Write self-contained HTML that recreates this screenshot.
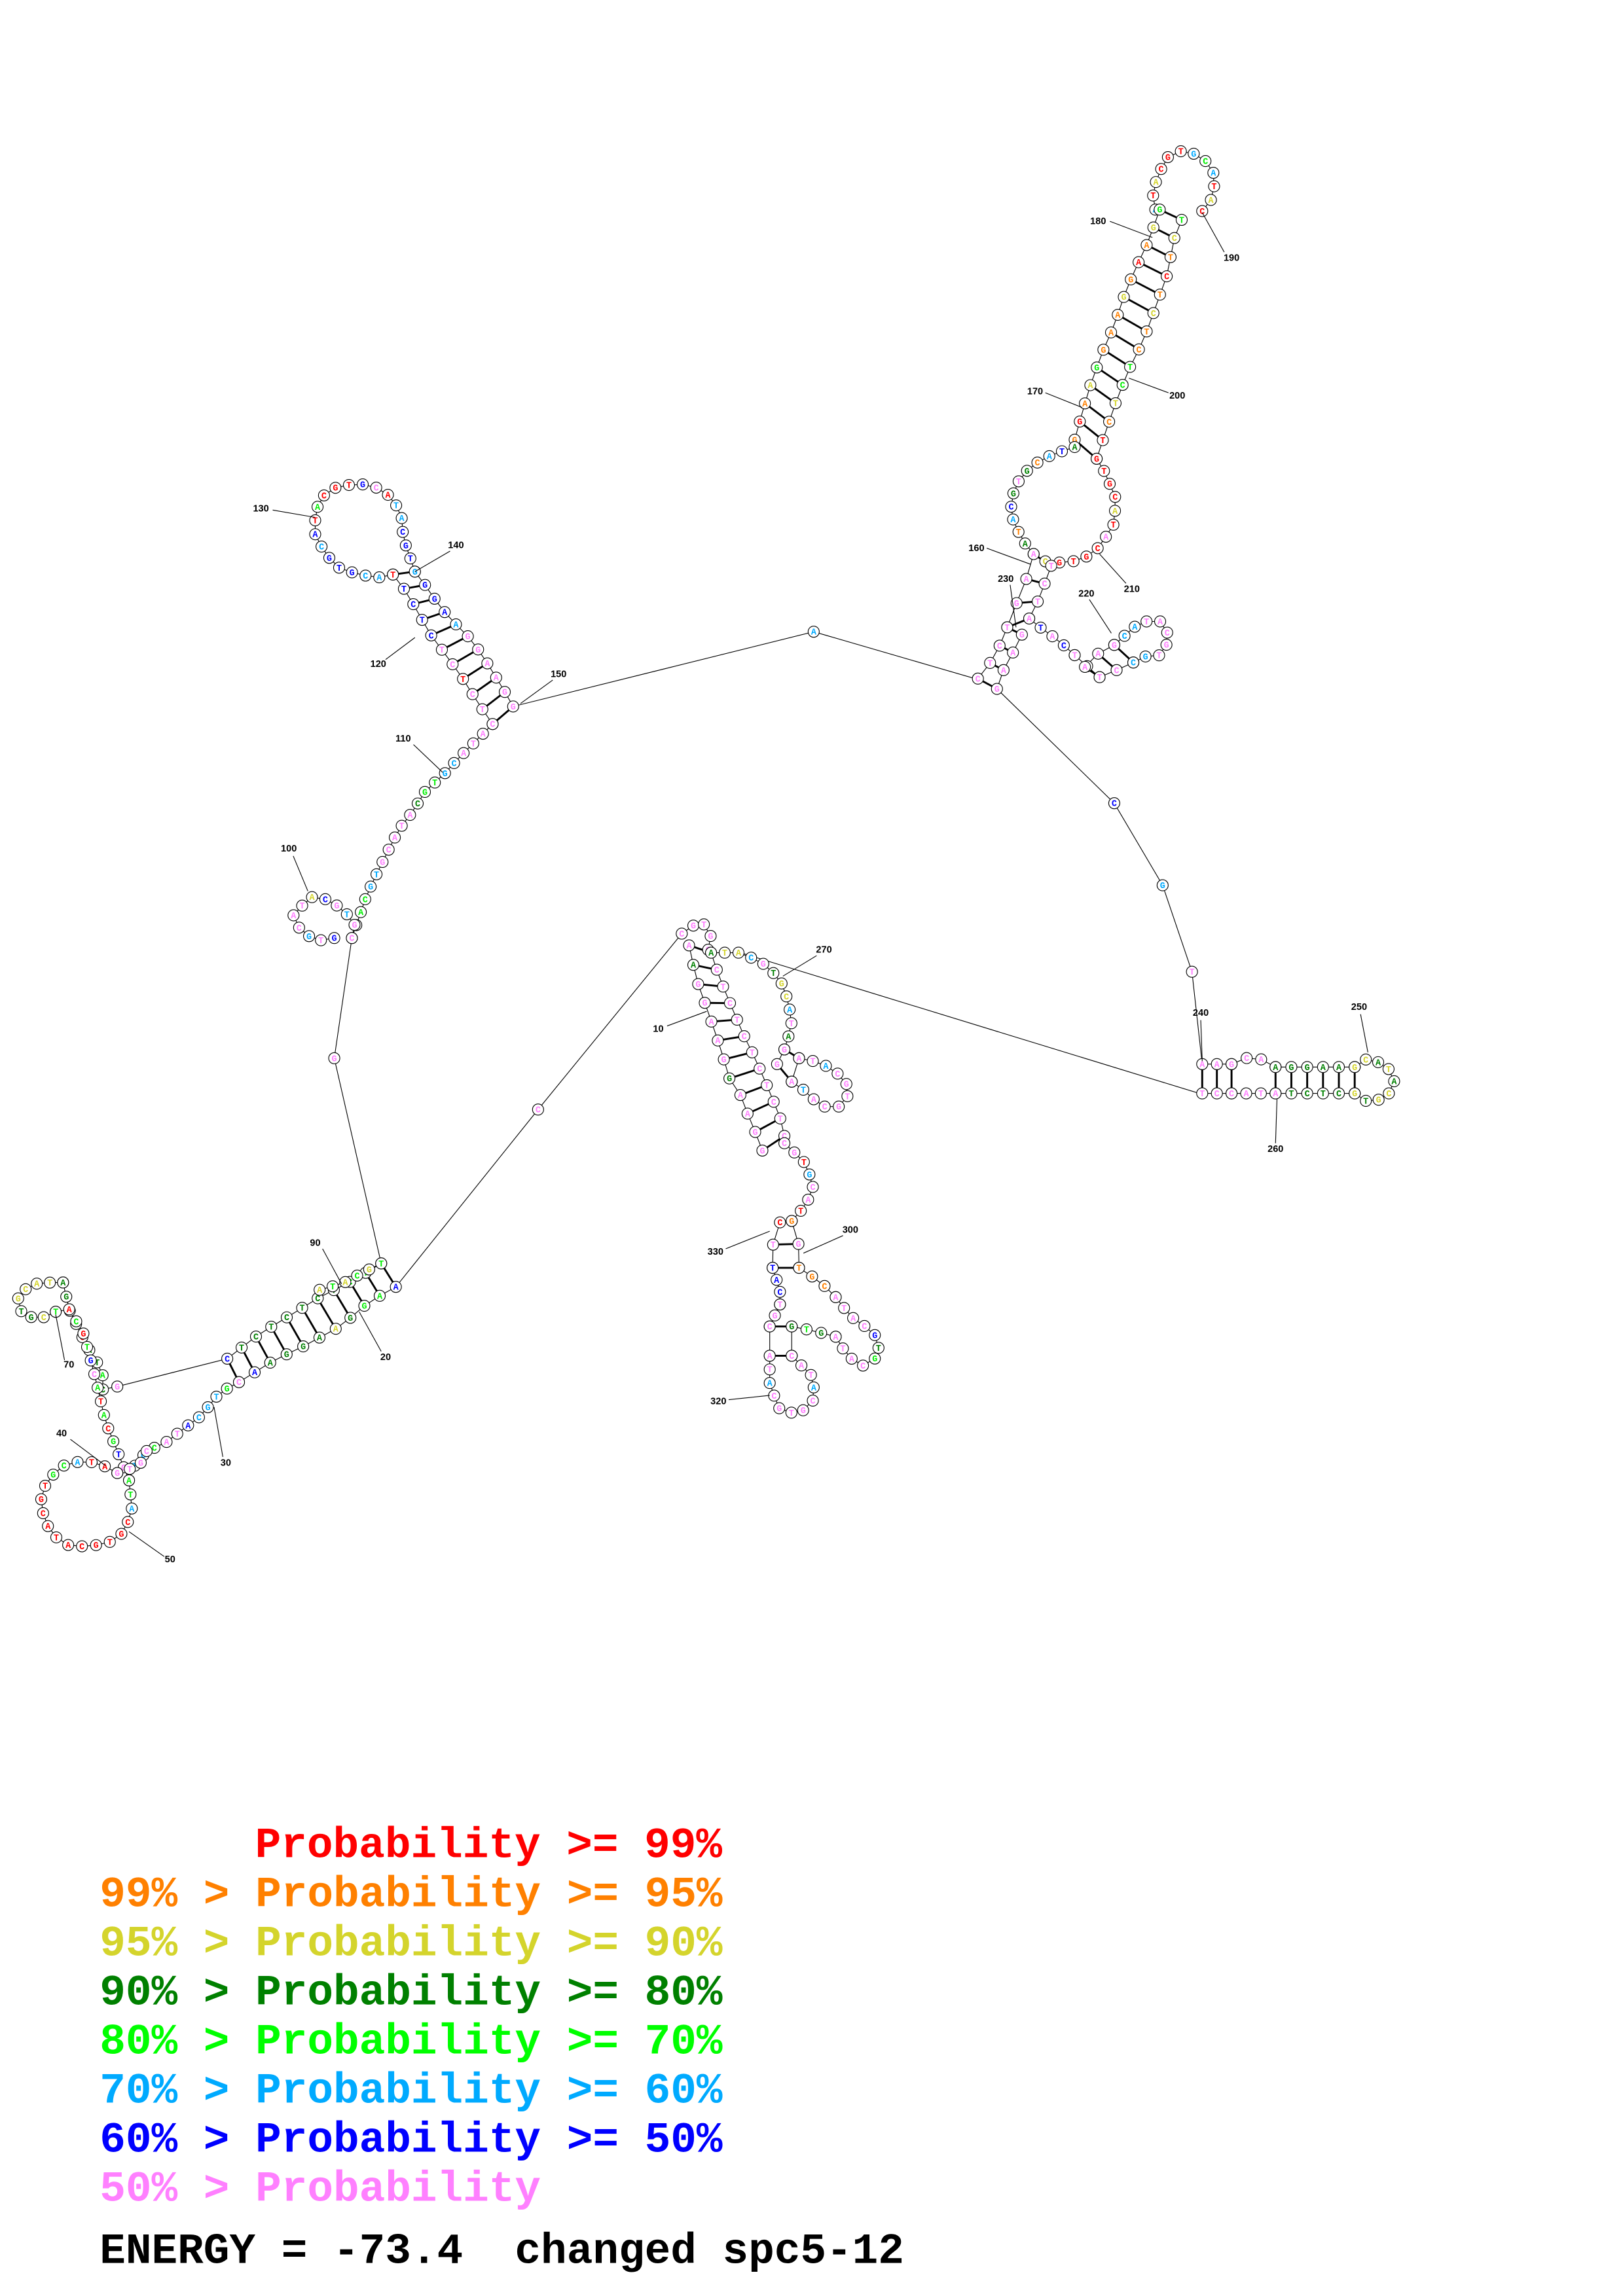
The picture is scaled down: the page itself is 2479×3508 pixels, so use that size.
<!DOCTYPE html>
<html><head><meta charset="utf-8"><style>html,body{margin:0;padding:0;background:#fff}svg{display:block}.pre{white-space:pre}</style></head>
<body>
<svg id="s" xmlns="http://www.w3.org/2000/svg" width="2479" height="3508" viewBox="0 0 1107 1566.5">
<rect width="1107" height="1566.5" fill="#fff"/>
<g id="lines" stroke="#000" stroke-width="0.5" fill="none"></g>
<g id="pairs" stroke="#000" stroke-width="1.3"></g>
<g id="nts" font-family="Liberation Mono, monospace" font-weight="bold" font-size="6" text-anchor="middle"></g>
<g id="labels" font-family="Liberation Sans, sans-serif" font-weight="bold" font-size="6.5" fill="#000" text-anchor="middle">
<text x="178" y="349">130</text><text x="311" y="374">140</text><text x="258" y="455">120</text><text x="381" y="462">150</text>
<text x="275" y="506">110</text><text x="197" y="581">100</text><text x="215" y="850">90</text><text x="263" y="928">20</text>
<text x="47" y="933">70</text><text x="42" y="980">40</text><text x="154" y="1000">30</text><text x="116" y="1066">50</text>
<text x="749" y="153">180</text><text x="840" y="178">190</text><text x="706" y="269">170</text><text x="803" y="272">200</text>
<text x="666" y="376">160</text><text x="772" y="404">210</text><text x="686" y="397">230</text><text x="741" y="407">220</text>
<text x="819" y="693">240</text><text x="927" y="689">250</text><text x="870" y="786">260</text><text x="562" y="650">270</text>
<text x="449" y="704">10</text><text x="580" y="841">300</text><text x="488" y="856">330</text><text x="490" y="958">320</text>
</g>
<g stroke="#000" stroke-width="0.5">
<line x1="186" y1="348" x2="215" y2="353"/><line x1="307" y1="376" x2="283" y2="390"/><line x1="263" y1="450" x2="283" y2="435"/><line x1="377" y1="464" x2="355" y2="480"/>
<line x1="282" y1="508" x2="302" y2="527"/><line x1="200" y1="584" x2="210" y2="608"/><line x1="220" y1="852" x2="233" y2="876"/><line x1="260" y1="922" x2="245" y2="895"/>
<line x1="44" y1="928" x2="38" y2="897"/><line x1="48" y1="982" x2="72" y2="1000"/><line x1="152" y1="994" x2="146" y2="960"/><line x1="112" y1="1062" x2="88" y2="1045"/>
<line x1="757" y1="151" x2="786" y2="162"/><line x1="835" y1="172" x2="820" y2="145"/><line x1="713" y1="268" x2="738" y2="278"/><line x1="797" y1="268" x2="770" y2="258"/>
<line x1="673" y1="374" x2="703" y2="385"/><line x1="768" y1="398" x2="750" y2="378"/><line x1="689" y1="399" x2="693" y2="428"/><line x1="743" y1="409" x2="758" y2="432"/>
<line x1="819" y1="696" x2="820" y2="724"/><line x1="928" y1="692" x2="933" y2="718"/><line x1="870" y1="780" x2="871" y2="750"/><line x1="557" y1="652" x2="534" y2="666"/>
<line x1="455" y1="700" x2="482" y2="690"/><line x1="575" y1="843" x2="548" y2="855"/><line x1="495" y1="852" x2="525" y2="840"/><line x1="497" y1="955" x2="525" y2="952"/>
</g>
<g font-family="Liberation Mono, monospace" font-weight="bold" font-size="29.5" class="pre">
<text class="pre" x="174" y="1267" fill="#ff0000">Probability &gt;= 99%</text>
<text class="pre" x="68" y="1300.5" fill="#ff8000">99% &gt; Probability &gt;= 95%</text>
<text class="pre" x="68" y="1334" fill="#d4d42c">95% &gt; Probability &gt;= 90%</text>
<text class="pre" x="68" y="1367.5" fill="#008000">90% &gt; Probability &gt;= 80%</text>
<text class="pre" x="68" y="1401" fill="#00ff00">80% &gt; Probability &gt;= 70%</text>
<text class="pre" x="68" y="1434.5" fill="#00aaff">70% &gt; Probability &gt;= 60%</text>
<text class="pre" x="68" y="1468" fill="#0000ff">60% &gt; Probability &gt;= 50%</text>
<text class="pre" x="68" y="1501.5" fill="#ff80ff">50% &gt; Probability</text>
<text class="pre" x="68" y="1544" fill="#000">ENERGY = -73.4  changed spc5-12</text>
</g>
</svg>
<script>
(function(){
var NS="http://www.w3.org/2000/svg";
var L=document.getElementById('lines'),P=document.getElementById('pairs'),N=document.getElementById('nts');
var C={r:'#ff0000',o:'#ff8000',y:'#d4d42c',d:'#008000',g:'#00ee00',c:'#00aaff',b:'#0000ff',p:'#ff80ff'};
var letters='ACGTGCAT',li=0;
function el(t,a,par){var e=document.createElementNS(NS,t);for(var k in a)e.setAttribute(k,a[k]);par.appendChild(e);return e;}
function len(p){var s=0;for(var i=1;i<p.length;i++)s+=Math.hypot(p[i][0]-p[i-1][0],p[i][1]-p[i-1][1]);return s;}
function samp(p,n){if(n<2)return[p[0]];var T=len(p),out=[];for(var k=0;k<n;k++){var d=T*k/(n-1),i=1,acc=0;while(i<p.length){var sl=Math.hypot(p[i][0]-p[i-1][0],p[i][1]-p[i-1][1]);if(acc+sl>=d-1e-9||i==p.length-1){var t=sl?Math.min(1,(d-acc)/sl):0;out.push([p[i-1][0]+t*(p[i][0]-p[i-1][0]),p[i-1][1]+t*(p[i][1]-p[i-1][1])]);break;}acc+=sl;i++;}}return out;}
var nodes=[];
function line(p){el('polyline',{points:p.map(function(q){return q.join(',')}).join(' ')},L);}
function chain(p,col,step){step=step||9.5;var n=Math.max(2,Math.round(len(p)/step)+1);var s=samp(p,n);line(s);s.forEach(function(q,i){nodes.push([q,col.length>1?C[col[i%col.length]]:C[col]]);});return s;}
function stem(a,b,n,ca,cb){var sa=samp(a,n),sb=samp(b,n);line(sa);line(sb);for(var i=0;i<n;i++){el('line',{x1:sa[i][0],y1:sa[i][1],x2:sb[i][0],y2:sb[i][1]},P);nodes.push([sa[i],C[ca[i%ca.length]]]);nodes.push([sb[i],C[cb[i%cb.length]]]);}}
[[[665,463],[555,431],[350,482]],[[680,470],[760,548],[793,604],[813,663],[820,726]],[[818,746],[505,650]],
 [[240,640],[228,722],[260,862]],[[270,878],[367,757],[465,637]],[[155,927],[80,946]]].forEach(line);
[[555,431],[760,548],[793,604],[813,663],[228,722],[367,757]].forEach(function(q,i){nodes.push([q,C[['c','b','c','p','p','p'][i]]]);});
chain([[788,143],[786,130],[795,108],[808,102],[821,108],[829,120],[827,135],[820,144]],'cryrrrcg');
stem([[791,143],[784,163],[777,178],[768,198],[760,222],[752,240],[744,262],[738,282],[733,300]],[[806,150],[800,165],[797,185],[788,210],[780,232],[770,252],[762,272],[755,292],[748,313]],14,'gyoroyooo','gyoroyoog');
chain([[733,305],[718,310],[703,318],[692,332],[689,350],[697,368],[705,378]],'dbcodp');
chain([[748,313],[754,323],[761,340],[760,357],[750,373],[738,382],[725,384],[713,383]],'rrrryrp');
stem([[705,378],[700,395],[692,415],[687,428]],[[717,386],[713,397],[708,410],[702,422]],4,'p','p');
chain([[702,422],[712,430],[722,437],[733,447]],'pb');
stem([[687,428],[680,445],[673,456],[667,463]],[[697,433],[690,447],[684,458],[680,470]],4,'p','p');
chain([[733,447],[742,455],[750,462]],'p');
stem([[740,455],[750,445],[760,440]],[[750,462],[762,457],[773,452]],3,'p','p');
chain([[760,440],[778,424],[792,424],[798,435],[792,447],[780,448],[773,452]],'pccpppp');
stem([[820,726],[840,726]],[[820,746],[840,746]],3,'p','p');
chain([[840,726],[855,720],[870,728]],'p');
stem([[870,728],[924,728]],[[870,746],[924,746]],6,'d','d');
chain([[924,728],[933,722],[946,727],[951,738],[946,749],[933,752],[924,746]],'yydyd');
chain([[840,746],[870,746]],'p');
chain([[465,637],[478,628],[485,637],[483,648]],'p');
stem([[470,645],[475,668],[481,685],[487,702],[493,720],[497,735],[505,747],[510,760],[515,772],[520,785]],[[485,650],[490,665],[496,680],[502,694],[508,708],[515,722],[522,738],[527,750],[532,762],[535,775]],12,'pdpppppdpppp','p');
chain([[485,650],[505,650],[520,657],[532,668],[538,684],[540,700],[535,716]],'dyycp');
stem([[535,716],[530,726]],[[545,722],[540,738]],2,'p','p');
chain([[545,722],[560,725],[575,735],[580,745],[573,755],[560,755],[550,745],[540,738]],'ppcpppp');
chain([[535,780],[548,792],[555,808],[550,822],[540,833]],'pprc');
stem([[532,834],[527,850],[527,865]],[[540,833],[545,850],[545,865]],3,'rpp','opp');
chain([[527,865],[532,880],[532,890]],'b');
chain([[545,865],[560,875],[570,885]],'o');
stem([[525,905],[525,925]],[[540,905],[540,925]],2,'p','p');
chain([[532,890],[525,905]],'p');
chain([[525,925],[525,945],[532,962],[545,965],[555,955],[555,940],[540,925]],'ppcppp');
chain([[540,905],[555,908],[570,912]],'dg');
chain([[570,885],[580,898],[590,905],[598,912],[600,925],[588,932],[578,925],[570,912]],'ppppbdgp');
stem([[336,494],[325,478],[315,462],[305,448],[295,435],[285,418],[278,405],[268,392]],[[350,482],[342,468],[332,452],[322,437],[310,425],[300,414],[292,402],[283,390]],11,'ppprppbbbb','ppppppcbbb');
chain([[268,392],[258,394],[245,392],[232,388],[222,378],[215,365],[215,352],[218,340],[230,332],[245,330],[258,333],[268,340],[274,353],[275,367],[283,390]],'rccbbbcbrgrrrbp');
chain([[336,494],[325,505],[313,517],[303,528],[290,540],[282,553],[272,566],[265,580],[257,596],[250,611],[240,640]],'ppppccggdp');
chain([[240,640],[242,630],[235,622],[225,614],[212,612],[200,624],[205,635],[216,642],[228,640]],'ppcpbyp');
stem([[260,862],[240,874],[218,885],[197,898],[177,910],[155,927]],[[270,878],[252,888],[232,905],[208,918],[187,928],[163,943]],11,'bggdddddddb','bggdyddddb');
chain([[260,862],[248,868],[233,876],[218,880]],'gy');
chain([[163,943],[150,950],[137,966],[125,975],[112,985],[100,990],[92,1000]],'pgcccbp');
chain([[80,946],[70,948],[70,935],[63,925],[55,910],[47,893],[43,875]],'pdgddrd');
chain([[43,875],[35,875],[22,876],[12,884],[15,897],[27,900],[38,895]],'dyyyyd');
chain([[38,895],[47,893],[57,910],[65,940],[72,970],[80,990],[88,1010]],'grgrgbp');
chain([[88,1010],[90,1030],[85,1045],[75,1052],[62,1055],[48,1055],[37,1048],[30,1037],[28,1022],[32,1010],[43,1000],[55,997],[67,998],[80,1005]],'ggcrrrrrrrrrrr');
chain([[80,1005],[95,1000],[100,990]],'p');
nodes.forEach(function(n){var q=n[0];el('circle',{cx:q[0].toFixed(1),cy:q[1].toFixed(1),r:3.8,fill:'#fff',stroke:'#000','stroke-width':0.5},N);
var t=el('text',{x:q[0].toFixed(1),y:(q[1]+2).toFixed(1),fill:n[1]},N);t.textContent=letters[(li++)%8];});
})();
</script>
</body></html>
